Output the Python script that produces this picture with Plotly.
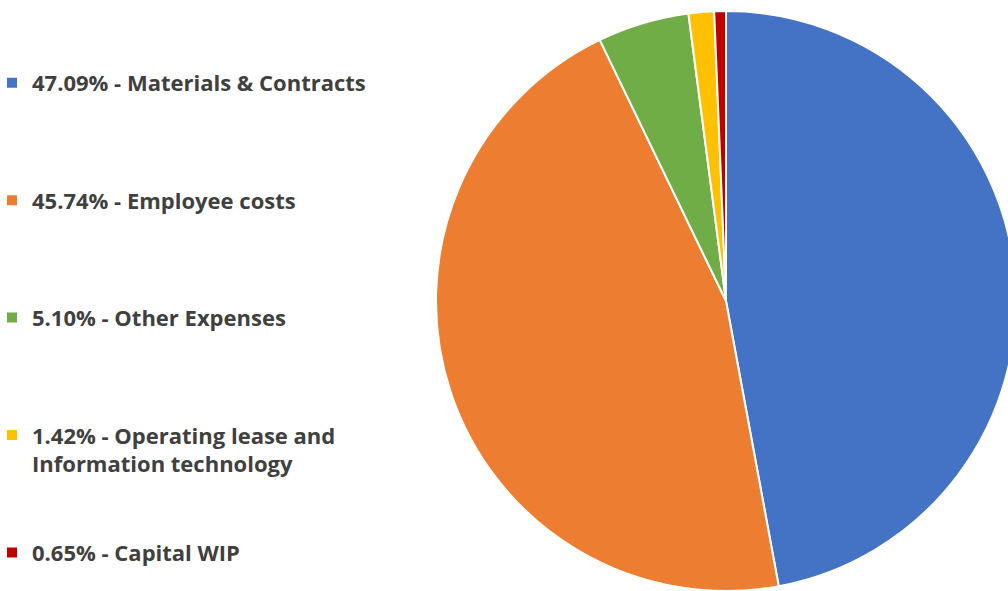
import plotly.graph_objects as go

# Expense categories and their share of the total (%)
categories = [
    "Materials & Contracts",
    "Employee costs",
    "Other Expenses",
    "Operating lease and<br>Information technology",
    "Capital WIP",
]
shares = [47.09, 45.74, 5.10, 1.42, 0.65]
colors = ["#4472C4", "#ED7D31", "#70AD47", "#FFC000", "#C00000"]

# Legend entries: "xx.xx% - Category", padded with blank lines for even spacing
pad_lines = [3, 3, 3, 2, 0]
labels = [
    f"{s:.2f}% - {c}" + "<br> " * p
    for s, c, p in zip(shares, categories, pad_lines)
]

W, H = 1024, 591

fig = go.Figure(
    go.Pie(
        labels=labels,
        values=shares,
        sort=False,
        direction="clockwise",
        rotation=0,
        marker=dict(colors=colors, line=dict(color="white", width=2)),
        textinfo="none",
        hoverinfo="label+percent",
        domain=dict(x=[436 / W, 1016 / W], y=[0, 580 / H]),
    )
)

fig.update_layout(
    width=W,
    height=H,
    autosize=False,
    margin=dict(l=0, r=0, t=0, b=0, autoexpand=False),
    paper_bgcolor="white",
    plot_bgcolor="white",
    showlegend=True,
    legend=dict(
        x=-8 / W,
        xanchor="left",
        y=1 - 62 / H,
        yanchor="top",
        valign="top",
        font=dict(family="Open Sans", size=22, color="#404040", weight="bold"),
        traceorder="normal",
        bgcolor="rgba(0,0,0,0)",
    ),
)

fig.write_html(
    "out.html",
    post_script="document.documentElement.style.overflow='hidden';document.body.style.overflow='hidden';",
)
